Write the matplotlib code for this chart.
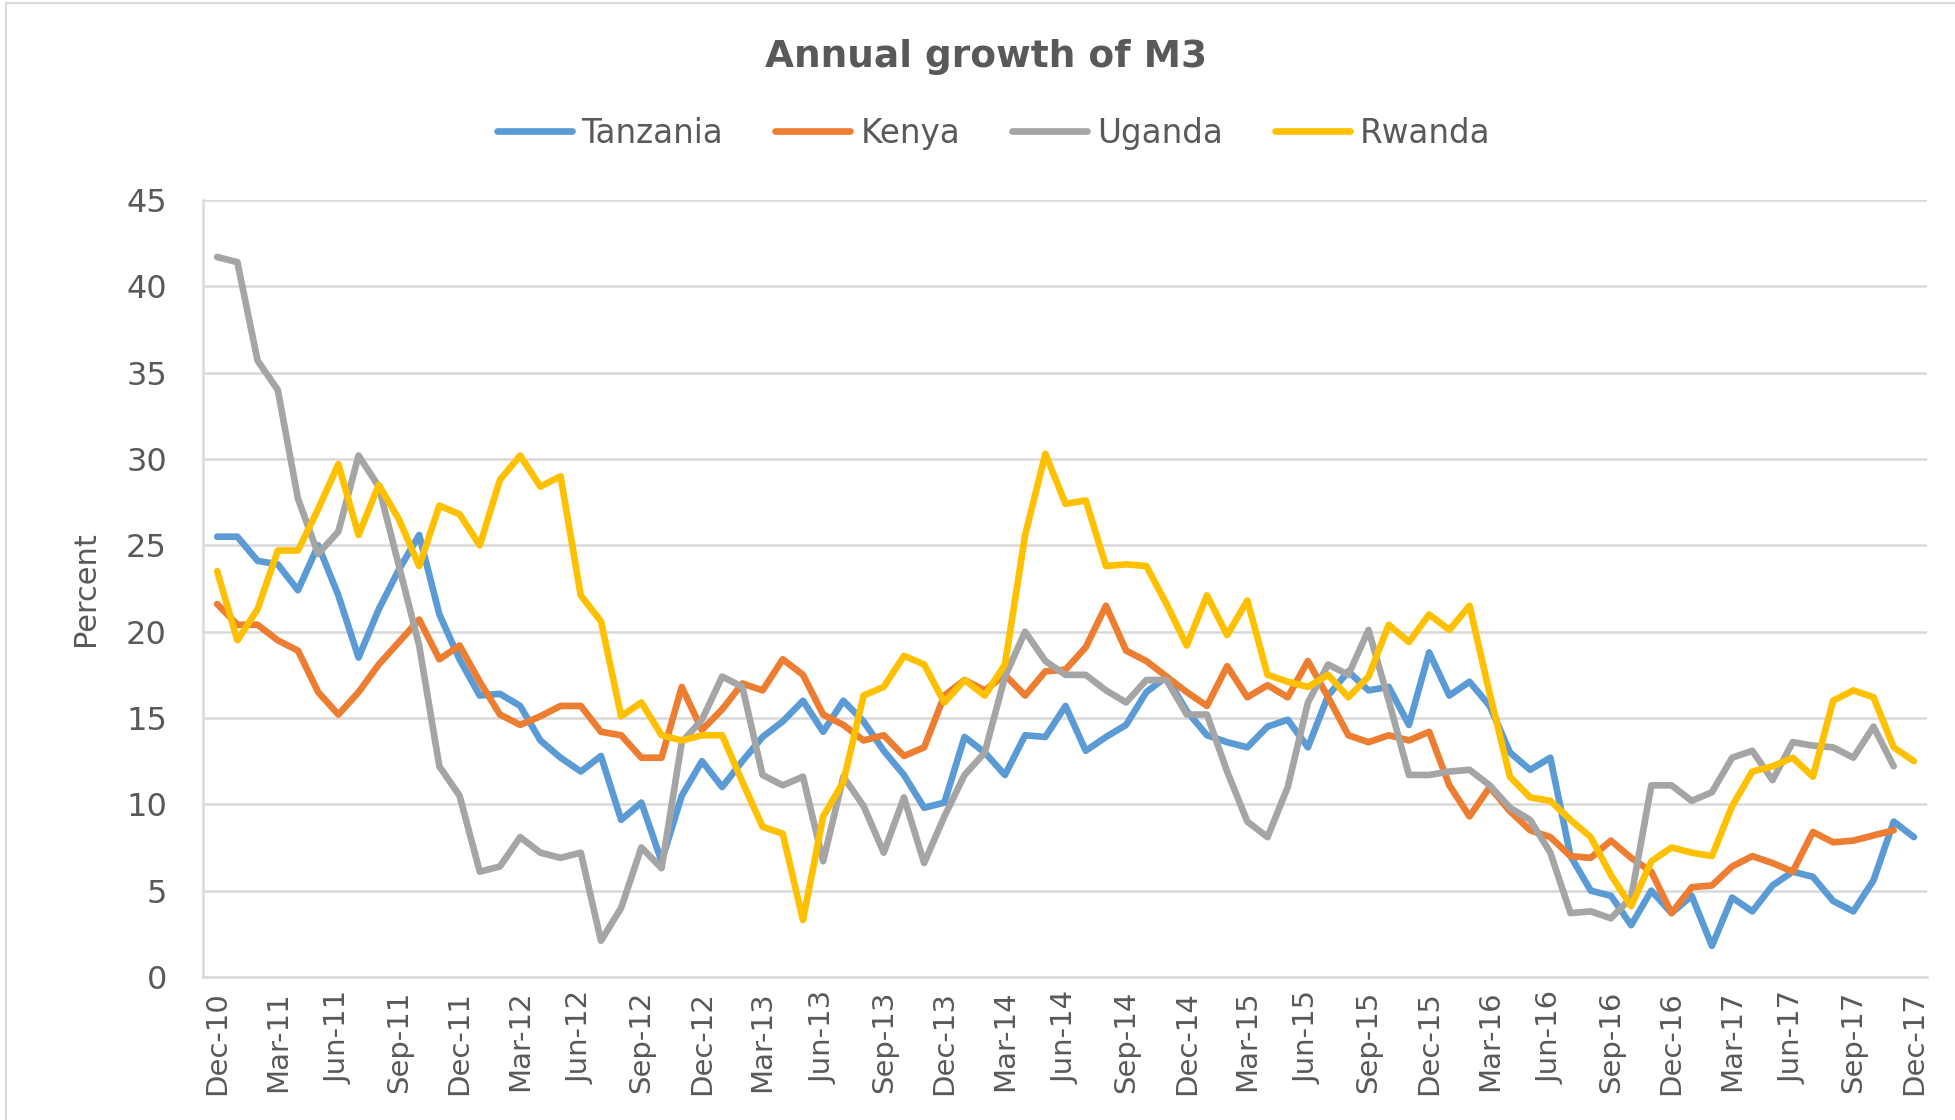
import matplotlib
matplotlib.use("Agg")
import matplotlib.pyplot as plt
from matplotlib.lines import Line2D

# monthly observations, Dec-10 .. Dec-17
months = ["Dec-10", "Jan-11", "Feb-11", "Mar-11", "Apr-11", "May-11", "Jun-11", "Jul-11", "Aug-11", "Sep-11",
          "Oct-11", "Nov-11", "Dec-11", "Jan-12", "Feb-12", "Mar-12", "Apr-12", "May-12", "Jun-12", "Jul-12",
          "Aug-12", "Sep-12", "Oct-12", "Nov-12", "Dec-12", "Jan-13", "Feb-13", "Mar-13", "Apr-13", "May-13",
          "Jun-13", "Jul-13", "Aug-13", "Sep-13", "Oct-13", "Nov-13", "Dec-13", "Jan-14", "Feb-14", "Mar-14",
          "Apr-14", "May-14", "Jun-14", "Jul-14", "Aug-14", "Sep-14", "Oct-14", "Nov-14", "Dec-14", "Jan-15",
          "Feb-15", "Mar-15", "Apr-15", "May-15", "Jun-15", "Jul-15", "Aug-15", "Sep-15", "Oct-15", "Nov-15",
          "Dec-15", "Jan-16", "Feb-16", "Mar-16", "Apr-16", "May-16", "Jun-16", "Jul-16", "Aug-16", "Sep-16",
          "Oct-16", "Nov-16", "Dec-16", "Jan-17", "Feb-17", "Mar-17", "Apr-17", "May-17", "Jun-17", "Jul-17",
          "Aug-17", "Sep-17", "Oct-17", "Nov-17", "Dec-17"]

tanzania = [25.5, 25.5, 24.1, 23.9, 22.4, 25.0, 22.1, 18.5, 21.3, 23.6,
            25.6, 21.0, 18.4, 16.3, 16.4, 15.7, 13.7, 12.7, 11.9, 12.8,
            9.1, 10.1, 6.7, 10.5, 12.5, 11.0, 12.5, 13.9, 14.8, 16.0,
            14.2, 16.0, 14.8, 13.1, 11.7, 9.8, 10.1, 13.9, 13.0, 11.7,
            14.0, 13.9, 15.7, 13.1, 13.9, 14.6, 16.5, 17.4, 15.4, 14.0,
            13.6, 13.3, 14.5, 14.9, 13.3, 16.3, 17.7, 16.6, 16.8, 14.6,
            18.8, 16.3, 17.1, 15.7, 13.0, 12.0, 12.7, 7.0, 5.0, 4.7,
            3.0, 5.0, 3.7, 4.7, 1.8, 4.6, 3.8, 5.3, 6.1, 5.8,
            4.4, 3.8, 5.6, 9.0, 8.1]

kenya = [21.6, 20.4, 20.4, 19.5, 18.9, 16.5, 15.2, 16.5, 18.1, 19.4,
         20.7, 18.4, 19.2, 17.1, 15.2, 14.6, 15.1, 15.7, 15.7, 14.2,
         14.0, 12.7, 12.7, 16.8, 14.3, 15.5, 17.0, 16.6, 18.4, 17.5,
         15.2, 14.6, 13.7, 14.0, 12.8, 13.3, 16.3, 17.2, 16.6, 17.5,
         16.3, 17.7, 17.8, 19.1, 21.5, 18.9, 18.3, 17.4, 16.5, 15.7,
         18.0, 16.2, 16.9, 16.2, 18.3, 16.2, 14.0, 13.6, 14.0, 13.7,
         14.2, 11.1, 9.3, 11.0, 9.6, 8.5, 8.1, 7.0, 6.9, 7.9,
         6.9, 6.1, 3.7, 5.2, 5.3, 6.4, 7.0, 6.6, 6.1, 8.4,
         7.8, 7.9, 8.2, 8.5]

uganda = [41.7, 41.4, 35.7, 34.0, 27.7, 24.5, 25.8, 30.2, 28.4, 23.8,
          19.2, 12.2, 10.5, 6.1, 6.4, 8.1, 7.2, 6.9, 7.2, 2.1,
          4.0, 7.5, 6.3, 13.6, 14.9, 17.4, 16.8, 11.7, 11.1, 11.6,
          6.7, 11.6, 9.9, 7.2, 10.4, 6.6, 9.3, 11.7, 13.0, 17.4,
          20.0, 18.3, 17.5, 17.5, 16.6, 15.9, 17.2, 17.2, 15.2, 15.2,
          11.9, 9.0, 8.1, 11.0, 15.9, 18.1, 17.5, 20.1, 16.0, 11.7,
          11.7, 11.9, 12.0, 11.1, 9.8, 9.1, 7.2, 3.7, 3.8, 3.4,
          4.6, 11.1, 11.1, 10.2, 10.7, 12.7, 13.1, 11.4, 13.6, 13.4,
          13.3, 12.7, 14.5, 12.2]

rwanda = [23.5, 19.5, 21.3, 24.7, 24.7, 27.1, 29.7, 25.6, 28.5, 26.5,
          23.8, 27.3, 26.8, 25.0, 28.8, 30.2, 28.4, 29.0, 22.1, 20.6,
          15.1, 15.9, 14.0, 13.7, 14.0, 14.0, 11.3, 8.7, 8.3, 3.3,
          9.3, 11.3, 16.3, 16.8, 18.6, 18.1, 15.9, 17.2, 16.3, 18.1,
          25.6, 30.3, 27.4, 27.6, 23.8, 23.9, 23.8, 21.6, 19.2, 22.1,
          19.8, 21.8, 17.5, 17.1, 16.8, 17.5, 16.2, 17.4, 20.4, 19.4,
          21.0, 20.1, 21.5, 16.4, 11.6, 10.4, 10.2, 9.1, 8.1, 5.9,
          4.1, 6.7, 7.5, 7.2, 7.0, 9.9, 11.9, 12.2, 12.7, 11.6,
          16.0, 16.6, 16.2, 13.3, 12.5]

series = [("Tanzania", tanzania, "#5B9BD5"),
          ("Kenya", kenya, "#ED7D31"),
          ("Uganda", uganda, "#A5A5A5"),
          ("Rwanda", rwanda, "#FFC000")]

text_col = "#595959"
plt.rcParams['font.family'] = ['DejaVu Sans']

fig = plt.figure(figsize=(19.56, 11.2), dpi=100)
ax = fig.add_axes([0.1038, 0.1277, 0.8814, 0.6937])

for name, vals, col in series:
    ax.plot(range(len(vals)), vals, color=col, lw=4.8, label=name,
            solid_joinstyle='round', solid_capstyle='round')

ax.set_ylim(0, 45)
ax.set_yticks(range(0, 46, 5))
ax.set_xlim(-0.7, 84.65)
ticks = list(range(0, len(months), 3))
ax.set_xticks(ticks)
ax.set_xticklabels([months[i] for i in ticks], rotation=90, fontsize=21, color=text_col)
ax.tick_params(axis='y', labelsize=23, labelcolor=text_col, length=0, pad=26)
ax.tick_params(axis='x', length=0, pad=10)

ax.grid(axis='y', color='#D9D9D9', lw=1.8)
ax.set_axisbelow(True)
for s in ['top', 'right']:
    ax.spines[s].set_visible(False)
ax.spines['left'].set_color('#D9D9D9')
ax.spines['left'].set_linewidth(1.8)
ax.spines['bottom'].set_color('#D9D9D9')
ax.spines['bottom'].set_linewidth(1.8)

ax.set_ylabel("Percent", fontsize=22, color=text_col)
ax.yaxis.set_label_coords(-0.060, 0.5)

fig.text(0.504, 0.949, "Annual growth of M3", ha='center', va='center',
         fontsize=27, fontweight='bold', color=text_col)
fig.legend(loc='center', bbox_to_anchor=(0.508, 0.881), ncol=4, frameon=False,
           fontsize=23.5, labelcolor=text_col, handlelength=2.3, columnspacing=1.6,
           handletextpad=0.3)

# chart border (left and top edges visible)
fig.add_artist(Line2D([0.003, 0.003], [0.0, 0.997], transform=fig.transFigure,
                      color='#D9D9D9', lw=1.5))
fig.add_artist(Line2D([0.003, 1.0], [0.997, 0.997], transform=fig.transFigure,
                      color='#D9D9D9', lw=1.5))

fig.savefig("out.png", dpi=100)
